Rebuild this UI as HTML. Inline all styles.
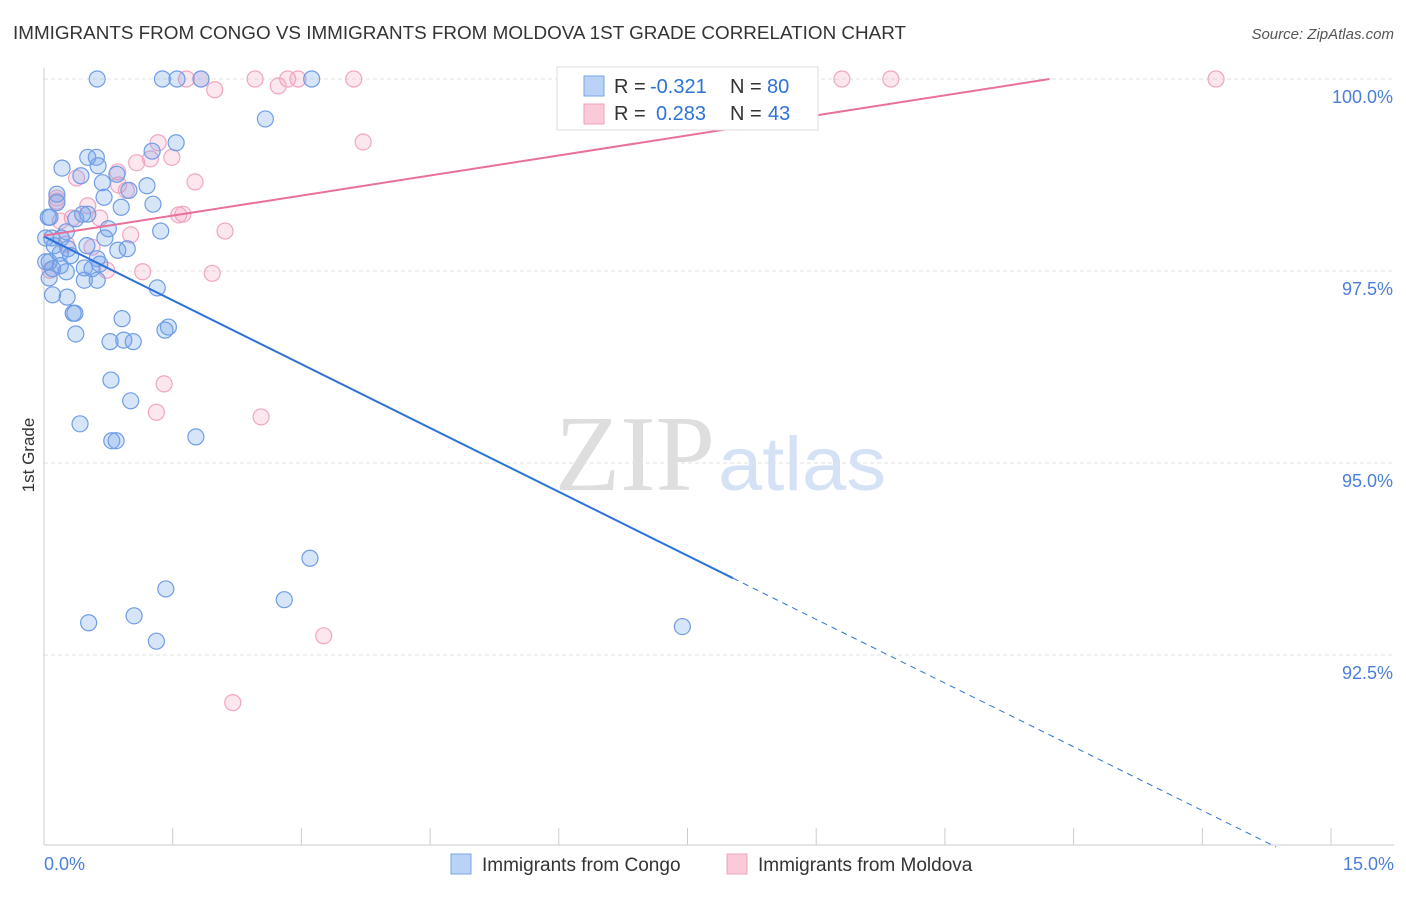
<!DOCTYPE html>
<html><head><meta charset="utf-8"><style>
body{margin:0;background:#fff;font-family:"Liberation Sans",sans-serif;}
</style></head><body>
<svg width="1406" height="892" xmlns="http://www.w3.org/2000/svg" font-family="Liberation Sans, sans-serif">
<text x="13" y="39" font-size="18" fill="#333" textLength="893" lengthAdjust="spacingAndGlyphs">IMMIGRANTS FROM CONGO VS IMMIGRANTS FROM MOLDOVA 1ST GRADE CORRELATION CHART</text>
<text x="1394" y="39" font-size="15" fill="#555" text-anchor="end" font-style="italic">Source: ZipAtlas.com</text>
<g>
<text x="555" y="490" font-size="108" fill="#dedede" font-family="Liberation Serif, serif" textLength="160" lengthAdjust="spacingAndGlyphs">ZIP</text>
<text x="718" y="490" font-size="76" fill="#d5e2f5" textLength="168" lengthAdjust="spacingAndGlyphs">atlas</text>
</g>
<g id="grid"></g>
<g id="axes"></g>
<g id="marks"></g>
<text transform="translate(34,455) rotate(-90)" font-size="17" fill="#333" text-anchor="middle">1st Grade</text>
<g>
<rect x="557" y="67" width="261" height="63" fill="#fff" stroke="#ddd"/>
<rect x="584" y="76" width="20" height="20" fill="#b9d2f5" stroke="#7aa5e8"/>
<rect x="584" y="104" width="20" height="20" fill="#fbcad8" stroke="#f0a0bc"/>
<text x="614" y="93" font-size="20" fill="#333">R = </text>
<text x="650" y="93" font-size="20" fill="#2e72d8">-0.321</text>
<text x="730" y="93" font-size="20" fill="#333">N = </text>
<text x="767" y="93" font-size="20" fill="#2e72d8">80</text>
<text x="614" y="120" font-size="20" fill="#333">R = </text>
<text x="656" y="120" font-size="20" fill="#2e72d8">0.283</text>
<text x="730" y="120" font-size="20" fill="#333">N = </text>
<text x="768" y="120" font-size="20" fill="#2e72d8">43</text>
</g>
<g>
<rect x="451" y="854" width="20" height="20" fill="#b9d2f5" stroke="#7aa5e8"/>
<text x="482" y="871" font-size="19" fill="#333">Immigrants from Congo</text>
<rect x="727" y="854" width="20" height="20" fill="#fbcad8" stroke="#f0a0bc"/>
<text x="758" y="871" font-size="19" fill="#333">Immigrants from Moldova</text>
</g>
</svg>
<script>
const yTicks=[100,97.5,95,92.5];
const yTickLabels=["100.0%","97.5%","95.0%","92.5%"];
const xTickLabels=["0.0%","15.0%"];
const congoX=[0.62,1.38,1.55,1.83,3.12,2.58,1.54,1.26,0.51,0.61,0.21,0.63,0.43,0.68,0.85,1.20,0.99,0.15,0.70,1.27,0.90,0.15,0.07,0.45,0.37,0.51,1.36,0.75,0.26,0.09,0.71,0.12,0.50,0.86,0.97,0.28,0.31,0.62,0.06,0.19,0.10,0.26,0.47,0.56,0.65,0.47,0.62,1.32,0.10,0.27,0.34,0.36,0.91,0.06,1.45,1.41,0.37,0.77,0.93,1.04,0.78,1.01,0.42,0.79,0.84,1.77,3.10,1.42,2.80,1.05,0.52,1.31,7.44,0.02,0.02,0.20,0.19,0.05];
const congoY=[100,100,100,100,100,99.48,99.17,99.06,98.98,98.98,98.84,98.87,98.74,98.65,98.76,98.61,98.55,98.50,98.46,98.37,98.33,98.39,98.20,98.24,98.18,98.24,98.02,98.05,98.01,97.93,97.93,97.83,97.83,97.77,97.79,97.79,97.70,97.66,97.62,97.57,97.53,97.49,97.54,97.53,97.59,97.38,97.38,97.28,97.19,97.16,96.95,96.95,96.88,97.41,96.77,96.73,96.68,96.58,96.60,96.58,96.08,95.81,95.51,95.29,95.29,95.34,93.76,93.36,93.22,93.01,92.92,92.68,92.87,97.62,97.93,97.93,97.73,98.20];
const moldX=[1.83,2.46,1.66,2.84,2.96,3.61,7.97,9.30,9.87,13.66,1.99,2.73,1.33,3.72,1.49,1.24,1.08,0.86,0.38,1.76,0.87,0.96,0.15,0.51,1.57,1.62,0.65,0.33,0.19,2.11,1.01,0.56,0.73,1.15,1.96,1.40,1.31,2.53,3.26,2.20,0.07,0.26,0.15];
const moldY=[100,100,100,100,100,100,100,100,100,100,99.86,99.91,99.17,99.18,98.98,98.96,98.91,98.79,98.71,98.66,98.62,98.55,98.41,98.35,98.23,98.24,98.19,98.19,98.15,98.02,97.97,97.81,97.51,97.49,97.47,96.03,95.66,95.60,92.75,91.88,97.51,97.85,98.45];
const congoTrend=[[0,97.95],[8.03,93.50],[14.36,90.0]];
const moldTrend=[[0,97.96],[11.72,100]];
const NS="http://www.w3.org/2000/svg";
const sx=v=>44+v/15*1287, sy=v=>79+(100-v)/2.5*192;
function mk(p,t,a){const e=document.createElementNS(NS,t);for(const k in a)e.setAttribute(k,a[k]);p.appendChild(e);return e;}
const grid=document.getElementById('grid'),axes=document.getElementById('axes'),marks=document.getElementById('marks');
yTicks.forEach((t,i)=>{
 const l=mk(grid,'line',{x1:44,x2:1394,y1:sy(t),y2:sy(t),stroke:'#e2e2e2','stroke-dasharray':'4,3'});
 
 const tx=mk(axes,'text',{x:1393,y:sy(t)+24,'font-size':18,fill:'#4a7fd8','text-anchor':'end'});tx.textContent=yTickLabels[i];
 
});
mk(axes,'line',{x1:44,x2:44,y1:68,y2:845,stroke:'#ccc'});
mk(axes,'line',{x1:44,x2:1394,y1:845,y2:845,stroke:'#ccc'});
for(let i=0;i<=10;i++){const x=sx(i*1.5);mk(axes,'line',{x1:x,x2:x,y1:828,y2:845,stroke:'#ccc'});}
const t0=mk(axes,'text',{x:44,y:870,'font-size':18,fill:'#4a7fd8'});t0.textContent=xTickLabels[0];

const t1=mk(axes,'text',{x:1394,y:870,'font-size':18,fill:'#4a7fd8','text-anchor':'end'});t1.textContent=xTickLabels[1];

moldX.forEach((x,i)=>{const c=mk(marks,'circle',{cx:sx(x),cy:sy(moldY[i]),r:8,fill:'rgba(245,160,190,0.25)',stroke:'#f2a5c0','stroke-width':1.2});
 });
congoX.forEach((x,i)=>{const c=mk(marks,'circle',{cx:sx(x),cy:sy(congoY[i]),r:8,fill:'rgba(110,160,235,0.28)',stroke:'#6f9de6','stroke-width':1.2});
 });
let l1=mk(marks,'line',{x1:sx(congoTrend[0][0]),y1:sy(congoTrend[0][1]),x2:sx(congoTrend[1][0]),y2:sy(congoTrend[1][1]),stroke:'#2e72d8','stroke-width':2});

let l2=mk(marks,'line',{x1:sx(congoTrend[1][0]),y1:sy(congoTrend[1][1]),x2:sx(congoTrend[2][0]),y2:sy(congoTrend[2][1]),stroke:'#2e72d8','stroke-width':1,'stroke-dasharray':'6,5'});

let l3=mk(marks,'line',{x1:sx(moldTrend[0][0]),y1:sy(moldTrend[0][1]),x2:sx(moldTrend[1][0]),y2:sy(moldTrend[1][1]),stroke:'#e8709a','stroke-width':2});

</script>
</body></html>
